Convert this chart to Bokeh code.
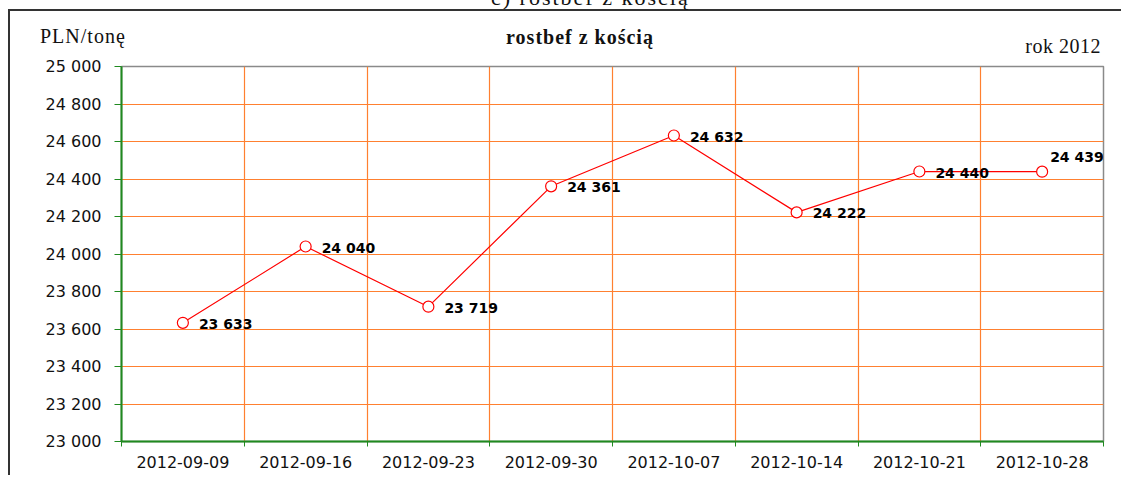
from bokeh.plotting import figure
from bokeh.models import FixedTicker, LabelSet, ColumnDataSource, Range1d, Div
from bokeh.layouts import column
from bokeh.core.properties import value
from bokeh.embed import file_html
from bokeh.resources import INLINE

# ---- data ----
dates = ["2012-09-09", "2012-09-16", "2012-09-23", "2012-09-30",
         "2012-10-07", "2012-10-14", "2012-10-21", "2012-10-28"]
prices = [23633, 24040, 23719, 24361, 24632, 24222, 24440, 24439]
y_ticks = [23000, 23200, 23400, 23600, 23800, 24000, 24200, 24400, 24600, 24800, 25000]
heading = "c) rostbef z kością"
title = "rostbef z kością"
unit_label = "PLN/tonę"
year_label = "rok 2012"

def fmt(v):
    return f"{v:,}".replace(",", " ")

n = len(dates)
xs = [i + 0.5 for i in range(n)]
label_dx = [16] * (n - 1) + [8]
label_dy = [-1] * (n - 1) + [15]

src = ColumnDataSource(dict(x=xs, y=prices, txt=[fmt(v) for v in prices],
                            dx=label_dx, dy=label_dy))

GREEN = "#1f8a1f"
ORANGE = "#ff8030"
W, H = 1113, 466
FL, FR, FT, FB = 111, 1093, 55, 430   # frame edges in canvas px

p = figure(width=W, height=H, output_backend="svg", toolbar_location=None,
           x_range=Range1d(0, n), y_range=Range1d(y_ticks[0], y_ticks[-1]),
           min_border_left=FL, min_border_right=W - FR,
           min_border_top=FT, min_border_bottom=H - FB, margin=0)
p.styles = {"border-left": "2px solid #333333", "border-top": "2px solid #333333",
            "margin-left": "8px"}
p.background_fill_color = "white"
p.border_fill_color = "white"
p.outline_line_color = "#8a8a8a"
p.outline_line_width = 1.5

# x axis: labels at category centres, tick marks at category boundaries
p.xaxis.ticker = FixedTicker(ticks=xs, minor_ticks=list(range(n + 1)))
p.xaxis.major_label_overrides = {x: d for x, d in zip(xs, dates)}
p.xaxis.major_tick_line_color = None
p.xaxis.major_tick_out = 0
p.xaxis.major_tick_in = 0
p.xaxis.minor_tick_line_color = GREEN
p.xaxis.minor_tick_out = 5
p.xaxis.minor_tick_in = 0
p.xaxis.axis_line_color = GREEN
p.xaxis.axis_line_width = 2
p.xaxis.major_label_standoff = 9
p.xaxis.major_label_text_font = "DejaVu Sans"
p.xaxis.major_label_text_font_size = "16px"
p.xaxis.major_label_text_color = "#111111"

p.yaxis.ticker = FixedTicker(ticks=y_ticks, minor_ticks=[])
p.yaxis.major_label_overrides = {v: fmt(v) for v in y_ticks}
p.yaxis.major_tick_line_color = GREEN
p.yaxis.major_tick_out = 7
p.yaxis.major_tick_in = 0
p.yaxis.minor_tick_line_color = None
p.yaxis.axis_line_color = GREEN
p.yaxis.axis_line_width = 2
p.yaxis.major_label_standoff = 13
p.yaxis.major_label_text_font = "DejaVu Sans"
p.yaxis.major_label_text_font_size = "16px"
p.yaxis.major_label_text_color = "#111111"

p.xgrid.ticker = FixedTicker(ticks=list(range(1, n)))
p.xgrid.grid_line_color = ORANGE
p.xgrid.grid_line_width = 1.2
p.ygrid.ticker = FixedTicker(ticks=y_ticks[1:-1])
p.ygrid.grid_line_color = ORANGE
p.ygrid.grid_line_width = 1.2

p.line("x", "y", source=src, line_color="red", line_width=1.2)
p.scatter("x", "y", source=src, size=11, marker="circle",
          line_color="red", fill_color="white", line_width=1.2)

p.add_layout(LabelSet(x="x", y="y", text="txt", source=src, x_offset="dx", y_offset="dy",
                      text_font=value("DejaVu Sans"), text_font_style="bold",
                      text_font_size="14px", text_baseline="middle", text_align="left",
                      text_color="black"))

# page-level texts (heading cut off at the top, unit, chart title, year)
serif = "font-family:'Liberation Serif',serif;color:#111;white-space:nowrap;position:absolute;"
head_html = (
    '<div style="position:relative;width:1125px;height:9px;">'
    f'<div style="{serif}left:491px;top:-16px;font-size:22px;line-height:22px;letter-spacing:2px;">{heading}</div>'
    f'<div style="{serif}left:40px;top:23px;font-size:20px;line-height:20px;letter-spacing:1px;">{unit_label}</div>'
    f'<div style="{serif}left:580px;top:24px;transform:translateX(-50%);font-size:20px;line-height:20px;'
    f'font-weight:bold;letter-spacing:1px;">{title}</div>'
    f'<div style="{serif}right:24px;top:33px;font-size:20px;line-height:20px;letter-spacing:0.5px;">{year_label}</div>'
    '</div>'
)
head = Div(text=head_html, width=1125, height=9, margin=0,
           styles={"overflow": "visible", "height": "9px", "min-height": "9px",
                   "position": "relative", "z-index": "10"})

layout = column(head, p, spacing=0)
open("out.html", "w").write(file_html(layout, INLINE))
